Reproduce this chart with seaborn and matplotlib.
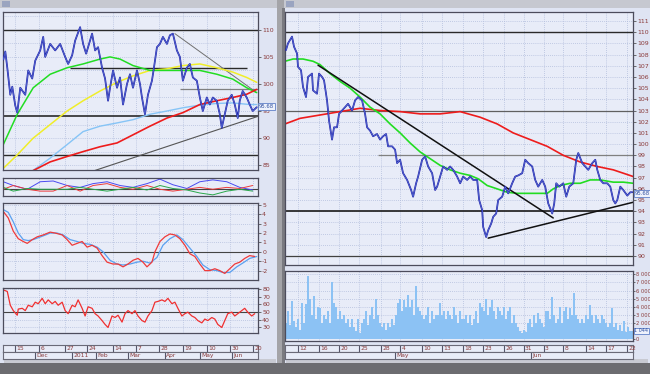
import numpy as np
import pandas as pd
import seaborn as sns
import matplotlib
matplotlib.use("Agg")
import matplotlib.pyplot as plt
from matplotlib.patches import Rectangle
from matplotlib.transforms import blended_transform_factory

# ---------------- DATA ----------------
# Left window (daily), x in bar units
left_price_x = [3, 5, 7, 10, 12, 15, 17, 20, 25, 28, 32, 35, 40, 43, 45, 50, 55, 60, 65, 68,
                72, 75, 80, 83, 86, 88, 92, 95, 98, 102, 105, 108, 110, 113, 117, 120, 123, 127, 130, 133,
                137, 140, 142, 145, 148, 152, 154, 157, 160, 163, 167, 170, 173, 177, 180, 183, 187, 190, 193, 197,
                200, 203, 207, 210, 213, 217, 220, 222, 225, 228, 232, 235, 238, 240, 243, 247, 250, 253, 257]
left_price = [104.5, 106, 103, 98, 99.5, 96, 94.7, 99.3, 98, 102.5, 101, 104.3, 106.2, 108.7, 105, 107.4, 106.2, 107.4, 105, 103.7,
              105.3, 108, 110.5, 107.4, 105.6, 106.8, 109.3, 106.2, 106.8, 103, 101, 96.9, 99.3, 102.5, 99.3, 101.2, 96.2, 100, 101.8, 99.3,
              102.5, 100, 97.5, 94.4, 98, 100.6, 103, 106.8, 107.4, 108.7, 107.4, 109, 109.3, 106.2, 105, 100.6, 103, 103.7, 101.2, 100.6,
              97.5, 95, 97.5, 96.2, 97.5, 96.9, 94.4, 91.9, 94.4, 96.9, 98, 96.2, 93.7, 96.9, 98.7, 97.5, 96.2, 95, 95.7]

ma_green_x = [3, 17, 33, 50, 67, 83, 100, 110, 120, 133, 150, 167, 183, 200, 217, 233, 247, 257]
ma_green = [88.8, 94.4, 99.3, 101.8, 103, 103.7, 104.6, 105, 104.6, 103.4, 102.5, 102.5, 102.5, 102.5, 101.8, 100.9, 99.3, 98.4]
ma_yellow_x = [3, 17, 33, 50, 67, 83, 100, 117, 133, 150, 167, 183, 200, 217, 233, 247, 257]
ma_yellow = [84.4, 86.9, 90, 92.5, 95, 96.9, 98.7, 100.3, 101.5, 102.5, 102.8, 103.4, 103.7, 103, 102.2, 101.2, 100.3]
ma_lblue_x = [32, 50, 67, 83, 100, 117, 133, 150, 167, 183, 200, 217, 233, 250, 257]
ma_lblue = [83.9, 86.3, 88.8, 91.2, 92.2, 92.8, 93.4, 94.4, 95, 95.6, 96.1, 96.4, 96.5, 96.2, 96.2]
ma_red_x = [32, 50, 67, 83, 100, 117, 133, 150, 167, 183, 200, 217, 233, 247, 257]
ma_red = [83.9, 85.6, 86.6, 87.5, 88.4, 89.1, 90.6, 92.2, 93.7, 94.7, 96.2, 96.9, 97.5, 98.1, 99]

osc_x = [3, 13, 27, 40, 53, 67, 80, 93, 107, 120, 133, 147, 160, 173, 187, 200, 213, 227, 240, 253]
osc_blue = [1.8, 0.8, -0.2, 1.8, 2.0, 0.8, 0.3, 1.3, 1.8, 0.8, 0.3, 1.3, 2.5, 1.0, 0, 1.8, 2.3, 1.8, 0.3, -0.4]
osc_red = [-0.2, 0.8, -0.2, -0.7, -0.7, 0.8, -0.7, 0.8, 1.3, 0.3, -0.2, 0.8, -0.2, -0.7, -0.2, 0.3, -0.2, 0.3, 0, 0.8]
osc_green = [0.3, -0.7, 0, -0.2, -0.2, -0.2, 0.3, -0.2, -0.7, -0.2, 0.3, -0.4, 0.8, 0, -0.4, -1.2, -1.7, -0.7, -0.2, -0.7]

macd_x = [3, 8, 13, 18, 23, 27, 32, 37, 43, 50, 55, 62, 67, 72, 77, 82, 87, 92, 97, 102,
          107, 113, 118, 123, 128, 133, 138, 143, 147, 152, 155, 160, 165, 170, 175, 180, 185, 190, 195, 200,
          205, 210, 215, 220, 225, 230, 235, 240, 245, 250, 255]
macd = [4.3, 3.6, 2.2, 1.4, 1.1, 0.9, 1.3, 1.6, 1.8, 2.1, 2.0, 1.8, 1.3, 0.7, 0.9, 1.1, 0.5, 0.7, 0.4, -0.4,
        -1.1, -1.3, -1.3, -1.6, -1.3, -0.9, -0.7, -1.1, -1.6, -1.1, 0, 1.1, 1.6, 1.9, 1.8, 1.4, 0.7, -0.2, -0.5, -1.3,
        -2.0, -2.0, -1.8, -2.0, -2.3, -1.8, -1.3, -1.1, -0.7, -0.4, -0.5]
signal_x = [3, 8, 13, 18, 23, 28, 33, 38, 43, 50, 57, 63, 70, 77, 83, 90, 97, 103, 110, 117,
            123, 130, 137, 143, 150, 157, 163, 170, 177, 183, 190, 197, 203, 210, 217, 223, 230, 237, 243, 250, 257]
signal = [4.5, 4.2, 3.2, 2.0, 1.3, 1.2, 1.3, 1.5, 1.7, 2.0, 2.0, 1.8, 1.3, 1.1, 0.9, 0.8, 0.5, 0, -0.9, -1.3,
          -1.4, -1.3, -1.1, -1.0, -1.2, -0.6, 0.7, 1.4, 1.8, 1.3, 0.4, -0.5, -1.4, -1.9, -2.0, -2.2, -2.2, -1.6, -1.2, -0.7, -0.5]

rsi_x = [3, 7, 10, 13, 17, 18, 22, 25, 28, 32, 35, 38, 42, 45, 48, 52, 55, 58, 62, 65,
         68, 72, 75, 78, 82, 85, 88, 92, 95, 98, 102, 105, 108, 112, 115, 118, 122, 125, 128, 132,
         135, 138, 142, 145, 148, 152, 155, 158, 162, 165, 168, 172, 175, 178, 182, 185, 188, 192, 195, 198,
         202, 205, 208, 212, 215, 218, 222, 225, 228, 232, 235, 238, 242, 245, 248, 252, 255]
rsi = [79, 77, 59, 52, 46, 54, 55, 52, 59, 57, 63, 61, 68, 61, 66, 61, 64, 59, 63, 52,
       48, 59, 57, 66, 55, 45, 57, 55, 48, 45, 39, 34, 30, 45, 43, 46, 37, 48, 52, 48,
       52, 45, 39, 37, 45, 52, 63, 64, 66, 64, 68, 61, 63, 55, 45, 48, 50, 45, 43, 39,
       36, 41, 39, 43, 41, 34, 30, 39, 48, 50, 45, 48, 52, 55, 50, 45, 48]

left_date_ticks = [15, 39, 65, 87, 113, 136, 159, 183, 207, 230, 253]
left_date_labels = ["15", "6", "27", "24", "14", "7", "28", "19", "10", "30", "20"]
left_month_ticks = [35, 72, 96, 128, 165, 200, 232]
left_month_labels = ["Dec", "2011", "Feb", "Mar", "Apr", "May", "Jun"]

# Right window (hourly), x in bar units
right_price_x = [6, 8, 12, 14, 17, 18, 21, 23, 26, 28, 32, 33, 37, 39, 42, 44, 47, 49, 52, 54,
                 57, 59, 62, 65, 68, 72, 75, 78, 82, 85, 87, 90, 93, 97, 100, 103, 106, 108, 112, 115,
                 117, 120, 123, 127, 131, 133, 136, 138, 142, 145, 148, 152, 155, 157, 160, 163, 167, 170, 173, 177,
                 180, 183, 187, 190, 193, 197, 199, 202, 203, 206, 208, 211, 213, 216, 218, 222, 225, 228, 232, 235,
                 238, 242, 245, 248, 252, 255, 258, 262, 265, 268, 272, 274, 276, 279, 283, 286, 289, 293, 296, 298,
                 302, 305, 308, 312, 315, 317, 320, 323, 327, 330, 333, 335, 337, 340, 343, 347, 350, 352]
right_price = [108.4, 109, 109.6, 108.7, 108.1, 106.9, 106.6, 105.1, 104.2, 106, 106.3, 104.8, 104.5, 106.3, 106, 105.7, 103.9, 102.1, 100.4, 101.5,
               101.5, 102.7, 103, 103.3, 103.6, 103, 103.9, 104.2, 103.9, 102.7, 101.5, 101.2, 100.7, 100.9, 100.4, 100.7, 100.9, 99.8, 99.8, 99.5,
               98.3, 98.6, 97.4, 96.8, 95.9, 95.3, 96.5, 97.1, 98.6, 98.9, 98, 97.4, 95.9, 96.2, 97.1, 98, 97.7, 98, 97.7, 97.1,
               96.5, 97.1, 96.8, 97.1, 96.8, 96.8, 95, 94.1, 92.6, 91.7, 92.3, 92.9, 93.5, 93.8, 95, 95.3, 96.2, 95.6, 96.5, 97.1,
               97.2, 97.4, 98.6, 98.3, 98, 96.8, 96.2, 96.8, 96.2, 94.7, 93.8, 94.7, 96.5, 96.2, 96.5, 95.3, 96.2, 96.5, 98.6, 99.2,
               98.3, 98, 97.7, 98.3, 98.6, 97.7, 96.8, 96.5, 96.5, 96.2, 95, 94.7, 95, 96.2, 95.9, 95.4, 95.7, 95.7]

r_red_x = [5, 20, 40, 60, 80, 100, 120, 140, 160, 180, 200, 217, 233, 250, 267, 283, 300, 317, 333, 353]
r_red = [101.8, 102.3, 102.6, 102.9, 103.2, 103, 102.9, 102.7, 102.7, 102.9, 102.4, 101.8, 101, 100.4, 99.8, 99, 98.4, 98, 97.7, 97.1]
r_green_x = [5, 13, 23, 33, 40, 50, 60, 70, 80, 90, 100, 110, 120, 130, 140, 150, 160, 170, 180, 190,
             198, 207, 217, 227, 237, 247, 257, 267, 273, 280, 290, 300, 310, 320, 333, 343, 353]
r_green = [107.4, 107.6, 107.6, 107.4, 107.1, 106.3, 105.6, 105, 104.2, 103.3, 102.7, 101.8, 101, 100.1, 99.3, 98.7, 98.1, 97.7, 97.4, 97.2,
           96.9, 96.3, 96, 95.7, 95.6, 95.6, 95.6, 95.6, 96, 96.3, 96.5, 96.5, 96.8, 96.8, 96.6, 96.6, 96.5]

volume_k = [2.0, 3.5, 1.8, 4.7, 2.2, 1.5, 2.5, 1.2,
            4.5, 2.0, 4.3, 7.8, 5.0, 3.0, 5.3,
            2.5, 4.0, 3.9, 2.0, 3.0, 2.5, 3.5, 2.0,
            7.0, 4.5, 4.0, 2.5, 3.5,
            2.5, 3.0, 2.0, 2.5, 1.5, 2.5, 1.5, 1.0, 2.5, 0.8,
            2.0, 2.5, 3.5, 1.8, 3.0, 4.0, 2.5, 5.0, 3.0, 2.0,
            1.5, 2.0, 1.2, 2.0, 1.5, 2.5, 1.8,
            3.0, 4.5, 5.0, 3.5, 4.8, 4.0, 5.5, 4.0, 4.8, 3.0, 6.5, 4.0, 3.5,
            3.0, 2.5, 3.0, 4.0, 2.0, 3.5, 2.5, 3.0,
            3.0, 4.5, 3.0, 3.5, 2.5, 3.5, 3.0, 2.5, 4.0, 3.0, 2.0, 3.5, 2.5,
            2.5, 3.0, 2.0, 3.0, 1.8, 2.5, 3.5, 2.0,
            4.5, 4.0, 3.5, 5.0, 3.0, 4.0, 4.8, 3.5, 2.5, 4.0,
            3.5, 3.0, 4.0, 2.5, 3.5, 4.0, 2.0, 3.0, 2.0, 1.5,
            1.0, 0.8, 1.2, 0.9,
            2.0, 2.5, 1.5, 3.0, 2.0, 3.2, 2.5, 2.0, 1.5, 3.5,
            3.5, 2.5, 5.2, 3.0, 2.0,
            2.5, 4.0, 2.0, 3.5, 4.0, 2.5, 3.8, 3.0, 5.7, 3.0, 2.5, 2.0,
            2.5, 2.0, 3.0, 2.5, 4.2, 3.0, 2.0, 3.0,
            2.5, 2.0, 3.0, 2.5, 2.0, 1.5, 2.0, 3.8, 1.5, 2.0, 1.2, 1.8, 1.0, 2.2, 0.9, 1.5, 1.0, 1.0]

right_date_ticks = [18.3, 39.3, 59.3, 79.3, 101, 120, 141.7, 161.7, 182.7, 202.7, 224, 243.3, 263.3, 282.7, 306, 326, 346.7]
right_date_labels = ["12", "16", "20", "25", "28", "4", "10", "13", "18", "23", "26", "31", "3", "8", "14", "17", "22"]
right_month_ticks = [115, 250.7]
right_month_labels = ["May", "Jun"]

last_price = "95.68"
last_volume = "1 044"

# ---------------- STYLE ----------------
sns.set_theme(style="white")
plt.rcParams['font.family'] = ['DejaVu Sans']

W, H = 650, 374
FIGBG = '#dfe4f3'
AXBG = '#e8ecf8'
TICKC = '#8a3b3b'
SPINE = '#4c4c5c'
GRIDC = '#b3bedc'
NAVY = '#1c1ca8'

fig = plt.figure(figsize=(W / 100, H / 100), dpi=100, facecolor=FIGBG)


def box(x0, y0, x1, y1):
    return [x0 / W, 1 - y1 / H, (x1 - x0) / W, (y1 - y0) / H]


def rect(x0, y0, x1, y1, color, z=0, ec='none', lw=0):
    fig.add_artist(Rectangle((x0 / W, 1 - y1 / H), (x1 - x0) / W, (y1 - y0) / H,
                             transform=fig.transFigure, facecolor=color, edgecolor=ec,
                             linewidth=lw, zorder=z))


# window chrome
rect(0, 0, 277, 8, '#c6c8d0')
rect(284, 0, 650, 8, '#c6c8d0')
rect(2, 1, 10, 7, '#9aa4c0')
rect(286, 1, 294, 7, '#9aa4c0')
rect(277, 0, 284, 363, '#a4a4a8')
rect(282, 8, 285, 363, '#7a7a80')
rect(0, 363, 650, 374, '#6c6c70')
rect(4, 359, 276, 363, '#c8cad2')
rect(286, 359, 648, 363, '#c8cad2')


def style(ax, xlim, ylim, yticks=None, ylabels=None, hgrid=(), vgrid=(), lsize=4.5):
    ax.set_facecolor(AXBG)
    ax.set_xlim(*xlim)
    ax.set_ylim(*ylim)
    for g in hgrid:
        ax.axhline(g, color=GRIDC, lw=0.6, ls=(0, (1, 1.5)), zorder=0.5)
    for g in vgrid:
        ax.axvline(g, color=GRIDC, lw=0.6, ls=(0, (1, 1.5)), zorder=0.5)
    ax.set_xticks([])
    ax.yaxis.tick_right()
    if yticks is not None:
        ax.set_yticks(yticks)
        ax.set_yticklabels(ylabels if ylabels is not None else [str(t) for t in yticks])
    else:
        ax.set_yticks([])
    ax.tick_params(axis='y', length=2, width=0.6, color='#555555', labelsize=lsize,
                   labelcolor=TICKC, pad=1, right=True, left=False)
    ax.set_xlabel('')
    ax.set_ylabel('')
    for s in ax.spines.values():
        s.set_color(SPINE)
        s.set_linewidth(0.9)


def line(ax, x, y, color, lw=1.0, z=2):
    sns.lineplot(x=x, y=y, ax=ax, color=color, lw=lw, legend=False, zorder=z, estimator=None)
    ax.set_xlabel('')
    ax.set_ylabel('')


def price_label(ax, value, text, size=3.8):
    tr = blended_transform_factory(ax.transAxes, ax.transData)
    ax.text(1.004, value, text, transform=tr, fontsize=size, color='#3050a0', va='center', ha='left',
            bbox=dict(boxstyle='square,pad=0.15', fc='#eef2fc', ec='#6080c8', lw=0.6), zorder=5, clip_on=False)


def date_row(rect_px, xlim, ticks, labels):
    a = fig.add_axes(box(*rect_px))
    a.set_facecolor(AXBG)
    a.set_xlim(*xlim)
    a.set_ylim(0, 1)
    a.set_xticks([])
    a.set_yticks([])
    for s in a.spines.values():
        s.set_color('#6a6a78')
        s.set_linewidth(0.8)
    for t, lab in zip(ticks, labels):
        a.axvline(t, color='#55556a', lw=0.8)
        a.text(t + 1.3, 0.45, lab, fontsize=4.3, color=TICKC, va='center', ha='left')
    return a


LXL = (2.7, 258.3)
RXL = (5.0, 352.7)

# ---------------- LEFT MAIN ----------------
ax = fig.add_axes(box(3, 12, 258, 170))
style(ax, LXL, (84.1, 113.3), [85, 90, 95, 100, 105, 110], None,
      hgrid=np.arange(85, 113, 2.5), vgrid=left_date_ticks)
ax.axhline(110, color='#2a2a2a', lw=1.0, zorder=1)
ax.axhline(94, color='#2a2a2a', lw=1.2, zorder=1)
ax.axhline(86.8, color='#2a2a2a', lw=1.0, zorder=1)
ax.hlines(103, 70, 247, color='#2a2a2a', lw=1.0, zorder=1)
ax.hlines(99, 180, 258.3, color='#808080', lw=0.9, zorder=1)
ax.plot([175, 257], [109.3, 98.4], color='#707070', lw=0.7, zorder=1)
ax.plot([93, 258], [83.9, 94.0], color='#555555', lw=0.8, zorder=1)
line(ax, ma_lblue_x, ma_lblue, '#86c4f6', 1.0, 2)
line(ax, ma_yellow_x, ma_yellow, '#f0ee2a', 1.1, 2)
line(ax, ma_green_x, ma_green, '#22dd22', 1.1, 2)
line(ax, ma_red_x, ma_red, '#ee1c1c', 1.2, 2)
line(ax, left_price_x, left_price, NAVY, 1.25, 3)
line(ax, left_price_x, left_price, '#6a86e0', 0.4, 3.5)
price_label(ax, 95.8, last_price)

# ---------------- LEFT OSC ----------------
ax = fig.add_axes(box(3, 178, 258, 196))
style(ax, LXL, (-2.0, 2.8), None, None, hgrid=[], vgrid=left_date_ticks)
ax.axhline(0, color='#444444', lw=0.8, zorder=1)
line(ax, osc_x, osc_blue, '#4a4af0', 0.7)
line(ax, osc_x, osc_red, '#ee3a3a', 0.7)
line(ax, osc_x, osc_green, '#2aa84a', 0.7)

# ---------------- LEFT MACD ----------------
ax = fig.add_axes(box(3, 203, 258, 280))
style(ax, LXL, (-3.0, 5.2), [-2, -1, 0, 1, 2, 3, 4, 5], None,
      hgrid=[-2, -1, 1, 2, 3, 4, 5], vgrid=left_date_ticks)
ax.axhline(0, color='#444444', lw=0.8, zorder=1)
line(ax, signal_x, signal, '#5aa0f0', 0.9)
line(ax, macd_x, macd, '#f03a3a', 0.9)

# ---------------- LEFT RSI ----------------
ax = fig.add_axes(box(3, 288, 258, 333))
style(ax, LXL, (22.8, 81.5), [30, 40, 50, 60, 70, 80], None,
      hgrid=[30, 40, 60, 70, 80], vgrid=left_date_ticks)
ax.axhline(50, color='#444444', lw=0.8, zorder=1)
line(ax, rsi_x, rsi, '#f03030', 0.9)

date_row((3, 345, 258, 352), LXL, left_date_ticks, left_date_labels)
date_row((3, 352, 258, 359), LXL, left_month_ticks, left_month_labels)

# ---------------- RIGHT MAIN ----------------
ax = fig.add_axes(box(285, 12, 633, 265))
style(ax, RXL, (89.2, 111.8), list(range(90, 112)), None,
      hgrid=range(90, 112), vgrid=right_date_ticks)
ax.axhline(110, color='#2a2a2a', lw=1.0, zorder=1)
ax.axhline(103, color='#606060', lw=0.9, zorder=1)
ax.hlines(99, 98, 352.7, color='#808080', lw=0.9, zorder=1)
ax.axhline(94, color='#2a2a2a', lw=1.3, zorder=1)
ax.axhline(90, color='#404040', lw=0.9, zorder=1)
line(ax, r_red_x, r_red, '#ee1c1c', 1.2, 2)
line(ax, r_green_x, r_green, '#22dd22', 1.2, 2)
ax.plot([38, 273], [107.05, 93.4], color='#111111', lw=1.1, zorder=2.5)
ax.plot([208, 352.7], [91.6, 94.8], color='#111111', lw=1.1, zorder=2.5)
line(ax, right_price_x, right_price, NAVY, 1.25, 3)
line(ax, right_price_x, right_price, '#6a86e0', 0.4, 3.5)
price_label(ax, 95.6, last_price)

# ---------------- RIGHT VOLUME ----------------
ax = fig.add_axes(box(285, 271, 633, 341))
vt = [0, 2, 3, 4, 5, 6, 7, 8]
style(ax, RXL, (-0.2, 8.4), vt, ["0"] + [f"{v} 000" for v in vt[1:]],
      hgrid=[1, 2, 3, 4, 5, 6, 7, 8], vgrid=right_date_ticks, lsize=3.7)
ax.tick_params(axis='y', pad=0.5, length=1.5)
vol_x = np.linspace(RXL[0] + 1, RXL[1] - 1, len(volume_k))
ax.bar(vol_x, volume_k, width=1.25, color='#8cc2f4', edgecolor='none', zorder=2)
price_label(ax, 1.044, last_volume, size=3.5)

date_row((285, 345, 633, 352), RXL, right_date_ticks, right_date_labels)
date_row((285, 352, 633, 359), RXL, right_month_ticks, right_month_labels)

fig.savefig('out.png', dpi=100, facecolor=FIGBG)
